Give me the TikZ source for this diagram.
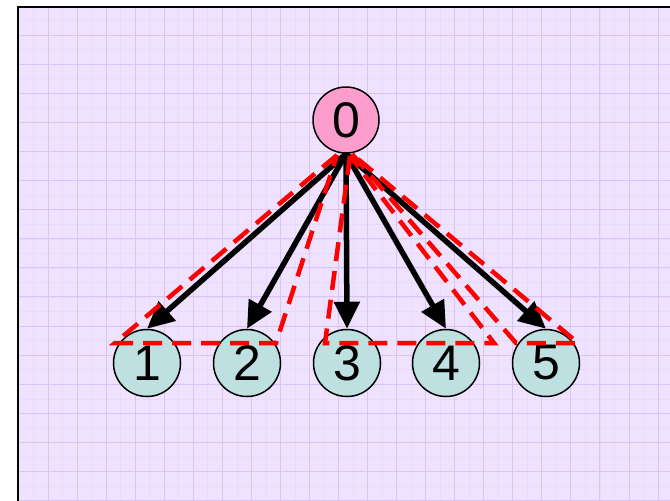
\documentclass[tikz,border=0pt]{standalone}
\usepackage{fontspec}
\setmainfont{Liberation Sans}
\usetikzlibrary{arrows.meta}
\definecolor{paper}{HTML}{EEE2FE}
\definecolor{gridmajor}{HTML}{DCC3F5}
\definecolor{gridminor}{HTML}{E9DAFC}
\definecolor{rootfill}{HTML}{FB9ECE}
\definecolor{leaffill}{HTML}{BEE0E0}
\definecolor{groupred}{HTML}{FF0000}
\tikzset{
  vertex/.style={circle, draw=black, line width=1.5pt, minimum size=67pt, inner sep=0pt,
    font=\fontsize{50}{50}\selectfont},
  root/.style={vertex, fill=rootfill, minimum size=66pt},
  leaf/.style={vertex, fill=leaffill},
  edge/.style={line width=5.5pt, -{Triangle[length=27pt,width=25pt]}},
  group/.style={draw=groupred, line width=4.5pt, dash pattern=on 19pt off 10pt, line join=miter},
}
\begin{document}
\begin{tikzpicture}[x=1pt,y=-1pt]
  \useasboundingbox (0,0) rectangle (670,501);
  % sheet with grid
  \fill[paper] (18,7) rectangle (670,501);
  \foreach \k in {0,...,44} {
    \draw[gridminor, line width=0.5pt] ({33.5+14.52*\k},8) -- ({33.5+14.52*\k},501);
  }
  \foreach \k in {0,...,33} {
    \draw[gridminor, line width=0.5pt] (19,{20.5+14.55*\k}) -- (670,{20.5+14.55*\k});
  }
  \foreach \k in {0,...,22} {
    \draw[gridmajor, line width=1pt] ({48+29.05*\k},8) -- ({48+29.05*\k},501);
  }
  \foreach \k in {0,...,16} {
    \draw[gridmajor, line width=1pt] (19,{35+29.1*\k}) -- (670,{35+29.1*\k});
  }
  \draw[black, line width=2pt] (18,501) -- (18,7) -- (670,7);

  % tree
  \node[root] (n0) at (346,120) {0};
  \node[leaf] (n1) at (147,363) {1};
  \node[leaf] (n2) at (247,363) {2};
  \node[leaf] (n3) at (347,363) {3};
  \node[leaf] (n4) at (446,363) {4};
  \node[leaf] (n5) at (546,363) {5};

  \foreach \i in {1,...,5} {
    \draw[edge] (n0.south) -- (n\i.north);
  }

  % dashed groups
  \coordinate (a0) at (337,155);
  \coordinate (a1) at (115,343);
  \coordinate (a2) at (276,343);
  \coordinate (b0) at (350,156);
  \coordinate (b1) at (325,343);
  \coordinate (b2) at (494,343);
  \coordinate (c0) at (352,154);
  \coordinate (c1) at (516,343);
  \coordinate (c2) at (578,343);
  \draw[group] (a0) -- (a1) -- (a2) -- cycle;
  \draw[group] (b0) -- (b1) -- (b2) -- cycle;
  \draw[group] (c0) -- (c1) -- (c2) -- cycle;
\end{tikzpicture}
\end{document}
